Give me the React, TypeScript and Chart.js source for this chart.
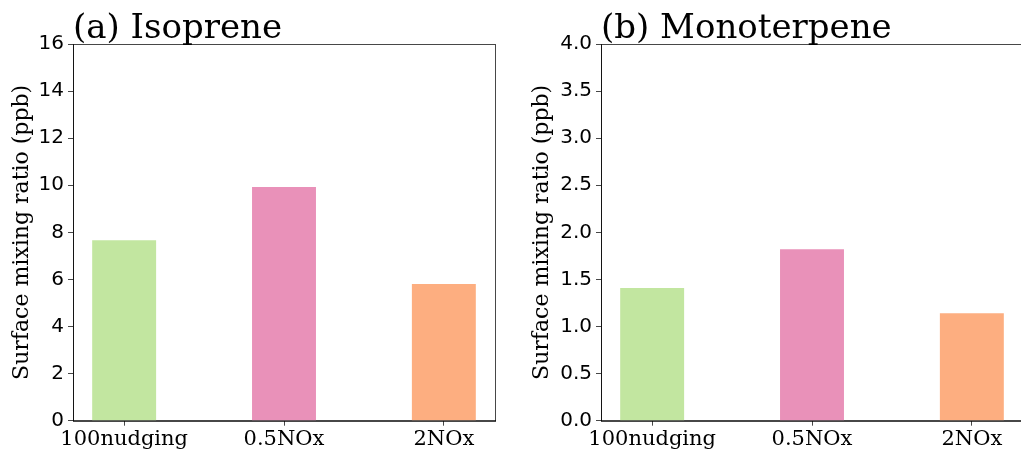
import React, { useEffect, useRef } from 'react';
import { Chart, registerables } from 'chart.js';

Chart.register(...registerables);

const categories = ['100nudging', '0.5NOx', '2NOx'];
const isopreneValues = [7.66, 9.93, 5.81];
const monoterpeneValues = [1.41, 1.82, 1.14];
const barColors = ['#c2e6a0', '#e991b9', '#fdae80'];
const isopreneTitle = '(a) Isoprene';
const monoterpeneTitle = '(b) Monoterpene';
const yAxisTitle = 'Surface mixing ratio (ppb)';

const AXIS_COLOR = 'rgba(0,0,0,0.72)';

const framePlugin = {
  id: 'frame',
  afterDraw(chart: any, _args: any, opts: any) {
    const { ctx, chartArea: a } = chart;
    ctx.save();
    ctx.strokeStyle = AXIS_COLOR;
    ctx.lineWidth = 1;
    const l = Math.round(a.left) + 0.5;
    const t = Math.round(a.top) + 0.5;
    const r = Math.round(a.right) + 0.5;
    const b = Math.round(a.bottom) + 0.5;
    ctx.strokeRect(l, t, r - l, b - t);
    ctx.fillStyle = '#000';
    ctx.font = '34px "DejaVu Serif"';
    ctx.textAlign = 'left';
    ctx.textBaseline = 'alphabetic';
    ctx.fillText(opts.title, a.left, a.top - 6.5);
    ctx.restore();
  },
};

function Panel(props: {
  title: string;
  values: number[];
  yMax: number;
  yStep: number;
  decimals: number;
  left: number;
  titlePad: number;
}) {
  const ref = useRef<HTMLCanvasElement | null>(null);
  useEffect(() => {
    if (!ref.current) return;
    const chart = new Chart(ref.current, {
      type: 'bar',
      data: {
        datasets: [
          {
            data: props.values.map((v, i) => ({ x: i, y: v })),
            backgroundColor: barColors,
            borderWidth: 0,
            categoryPercentage: 1,
            barPercentage: 0.4,
          },
        ],
      },
      plugins: [framePlugin],
      options: {
        animation: false,
        responsive: false,
        devicePixelRatio: 1,
        layout: { padding: { top: 44, right: 15, left: 0, bottom: 0 } },
        plugins: {
          legend: { display: false },
          tooltip: { enabled: false },
          frame: { title: props.title },
        } as any,
        scales: {
          x: {
            type: 'linear',
            offset: false,
            min: -0.32,
            max: 2.32,
            afterBuildTicks: (s: any) => {
              s.ticks = categories.map((_, i) => ({ value: i }));
            },
            afterFit: (s: any) => {
              s.height = 29.3;
            },
            grid: {
              offset: false,
              drawOnChartArea: false,
              drawTicks: true,
              tickLength: 5,
              color: AXIS_COLOR,
            },
            border: { color: AXIS_COLOR, width: 1 },
            ticks: {
              autoSkip: false,
              maxRotation: 0,
              padding: 1,
              color: '#000',
              font: { family: '"DejaVu Serif"', size: 21 },
              callback: (v: any) => categories[Math.round(Number(v))] ?? '',
            },
          },
          y: {
            min: 0,
            max: props.yMax,
            afterFit: (s: any) => {
              s.width = 73;
            },
            grid: {
              drawOnChartArea: false,
              drawTicks: true,
              tickLength: 5,
              color: AXIS_COLOR,
            },
            border: { color: AXIS_COLOR, width: 1 },
            ticks: {
              stepSize: props.yStep,
              padding: 4,
              color: '#000',
              font: { family: '"DejaVu Sans"', size: 20 },
              callback: (v: any) => Number(v).toFixed(props.decimals),
            },
            title: {
              display: true,
              text: yAxisTitle,
              color: '#000',
              font: { family: '"DejaVu Serif"', size: 22 },
              padding: { top: props.titlePad, bottom: 0 },
            },
          },
        },
      } as any,
    });
    return () => chart.destroy();
  }, []);
  return (
    <div style={{ position: 'absolute', left: props.left, top: 0, width: 510, height: 450 }}>
      <canvas ref={ref} width={510} height={450} style={{ width: 510, height: 450, display: 'block' }} />
    </div>
  );
}

export default function App() {
  return (
    <div
      style={{
        position: 'absolute',
        left: 0,
        top: 0,
        width: 1021,
        height: 450,
        overflow: 'hidden',
        background: '#fff',
      }}
    >
      <Panel title={isopreneTitle} values={isopreneValues} yMax={16} yStep={2} decimals={0} left={0} titlePad={9} />
      <Panel title={monoterpeneTitle} values={monoterpeneValues} yMax={4} yStep={0.5} decimals={1} left={528} titlePad={1} />
    </div>
  );
}
